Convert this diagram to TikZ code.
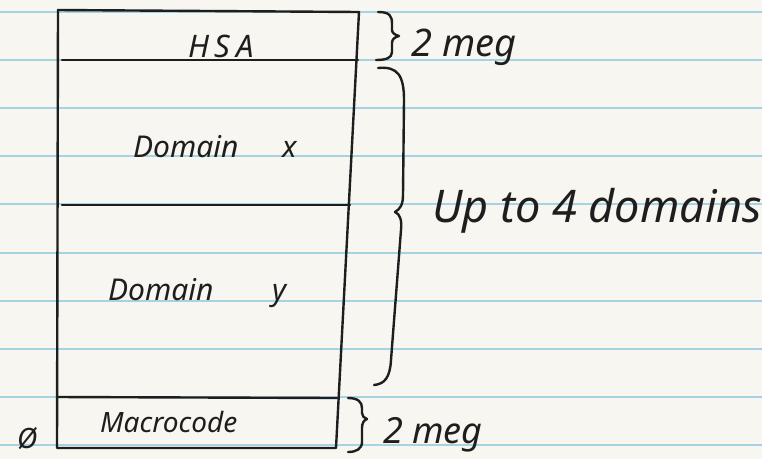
\documentclass[tikz,border=0pt]{standalone}
\usepackage{fontspec}
\setmainfont{Noto Sans}
\definecolor{paper}{HTML}{F8F6F0}
\definecolor{rule}{HTML}{A6D3E3}
\definecolor{ink}{HTML}{1E1E1E}
\tikzset{
  ink/.style={draw=ink, line width=2.4pt, line join=round, line cap=round},
  hand/.style={text=ink, font=\fontsize{#1}{#1}\selectfont\itshape, inner sep=0pt, anchor=base west},
}
\begin{document}
\begin{tikzpicture}[x=1pt, y=-1pt]
  \fill[paper] (0,0) rectangle (762,459);
  \useasboundingbox (0,0) rectangle (762,459);
  % ruled lines
  \foreach \yy in {12,60,108,156,204,253,301,349,397,445}
    \draw[rule, line width=1.3pt] (0,\yy) -- (762,\yy);
  % box corners
  \coordinate (tl) at (58,10);
  \coordinate (tr) at (359,12);
  \coordinate (br) at (336,448);
  \coordinate (bl) at (57,448);
  \coordinate (h1) at (62,60);  \coordinate (h2) at (358,60);
  \coordinate (d1) at (62,205); \coordinate (d2) at (350,205);
  \coordinate (m1) at (58,397); \coordinate (m2) at (337,398);
  \draw[ink] (tl) -- (tr) -- (br) -- (bl) -- cycle;
  \draw[ink] (h1) -- (h2);
  \draw[ink] (d1) -- (d2);
  \draw[ink] (m1) -- (m2);
  % labels
  \node[hand=31] (hsa) at (188,57) {\addfontfeatures{LetterSpace=18}HSA};
  \node[hand=30] (dx) at (133,157) {Domain};
  \node[hand=30] (xx) at (282,157) {x};
  \node[hand=30] (dy) at (108,300) {Domain};
  \node[hand=30] (yy) at (272,300) {y};
  \node[hand=28] (mc) at (100,432) {Macrocode};
  \node[hand=28] (zero) at (17,448) {Ø};
  % braces
  \coordinate (b1a) at (378,12); \coordinate (b1b) at (376,60);
  \draw[ink] (b1a) .. controls (390,12) and (392,16) .. (392,24)
    -- (392,30) .. controls (392,33) and (395,35) .. (399,36)
    .. controls (395,37) and (392,39) .. (392,43) -- (392,52)
    .. controls (392,58) and (386,60) .. (b1b);
  \node[hand=38] (meg1) at (411,56) {2 meg};
  \coordinate (b2a) at (378,68); \coordinate (b2b) at (374,385);
  \draw[ink] (b2a) .. controls (398,66) and (404,76) .. (404,100)
    -- (403,195) .. controls (403,205) and (400,209) .. (395,212)
    .. controls (400,214) and (402,220) .. (401,230)
    -- (391,360) .. controls (390,377) and (385,384) .. (b2b);
  \node[hand=45] (up) at (432,222) {Up to 4 domains};
  \coordinate (b3a) at (348,398); \coordinate (b3b) at (348,452);
  \draw[ink] (b3a) .. controls (358,398) and (362,402) .. (362,408)
    -- (362,413) .. controls (362,416) and (364,418) .. (367,419)
    .. controls (364,420) and (362,423) .. (362,428) -- (362,442)
    .. controls (362,449) and (356,452) .. (b3b);
  \node[hand=36] (meg2) at (383,443) {2 meg};
\end{tikzpicture}
\end{document}
